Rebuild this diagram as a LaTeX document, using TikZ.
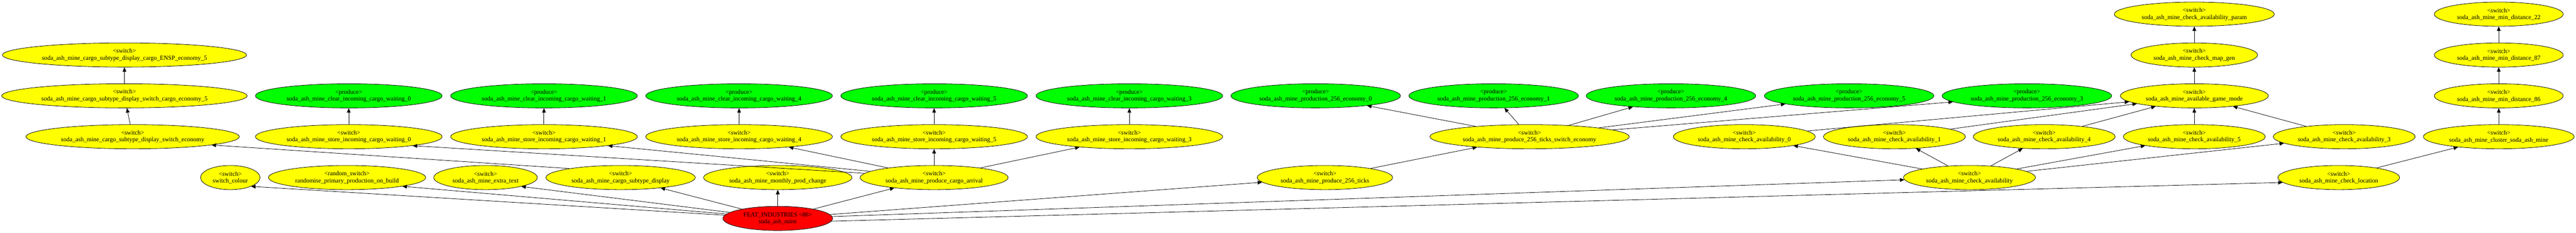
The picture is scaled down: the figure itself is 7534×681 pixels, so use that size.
\documentclass[tikz,border=0pt]{standalone}
\usepackage{fontspec}
\setmainfont{Liberation Serif}
\usepackage{xcolor}
\usetikzlibrary{arrows.meta, positioning, shapes.geometric}
\definecolor{switchyellow}{RGB}{255,255,0}
\definecolor{producegreen}{RGB}{0,255,0}
\definecolor{industryred}{RGB}{255,0,0}
\newcommand{\nodefont}{\fontsize{18.1}{20.5}\selectfont}

\begin{document}
\begin{tikzpicture}
    [x=1pt, y=1pt, >={Triangle[length=13pt, width=11pt]}, line width=1.2pt,
    edge/.style={draw=black, ->}, every node/.style={font=\nodefont}]
    % Define styles for switch, produce and industry nodes
    \tikzstyle{switch} = [draw, ellipse, fill=switchyellow, inner sep=0pt, minimum height=70.8pt, align=center]
    \tikzstyle{produce} = [switch, fill=producegreen]
    \tikzstyle{industry} = [switch, fill=industryred]

    \useasboundingbox (0,0) rectangle (7534,681);

    % Nodes placement: industry and the switches it calls
    \node [industry, minimum width=321pt] (root) at (2274.7,42.6) {FEAT\_INDUSTRIES <86>\\soda\_ash\_mine};
    \node [switch, minimum width=174pt] (colour) at (673.5,162) {<switch>\\switch\_colour};
    \node [switch, minimum width=460pt] (random) at (1015,162) {<random\_switch>\\randomise\_primary\_production\_on\_build};
    \node [switch, minimum width=303pt] (extra) at (1420,162) {<switch>\\soda\_ash\_mine\_extra\_text};
    \node [switch, minimum width=437pt] (subdisp) at (1815,162) {<switch>\\soda\_ash\_mine\_cargo\_subtype\_display};
    \node [switch, minimum width=434pt, above of=root, node distance=119.4pt] (monthly) {<switch>\\soda\_ash\_mine\_monthly\_prod\_change};
    \node [switch, minimum width=433pt] (arrival) at (2732,162) {<switch>\\soda\_ash\_mine\_produce\_cargo\_arrival};
    \node [switch, minimum width=396pt] (ticks) at (3875,162) {<switch>\\soda\_ash\_mine\_produce\_256\_ticks};
    \node [switch, minimum width=386pt] (check) at (5760,162) {<switch>\\soda\_ash\_mine\_check\_availability};
    \node [switch, minimum width=356pt] (location) at (6840,162) {<switch>\\soda\_ash\_mine\_check\_location};

    % Cargo subtype display chain
    \node [switch, minimum width=624pt] (sweco) at (388,281.4) {<switch>\\soda\_ash\_mine\_cargo\_subtype\_display\_switch\_economy};
    \node [switch, minimum width=718pt] (swcargo5) at (364,400.9) {<switch>\\soda\_ash\_mine\_cargo\_subtype\_display\_switch\_cargo\_economy\_5};
    \node [switch, minimum width=714pt, above of=swcargo5, node distance=119.4pt] (ensp) {<switch>\\soda\_ash\_mine\_cargo\_subtype\_display\_cargo\_ENSP\_economy\_5};

    % Incoming cargo waiting
    \node [switch, minimum width=546pt] (store0) at (1020,281.4) {<switch>\\soda\_ash\_mine\_store\_incoming\_cargo\_waiting\_0};
    \node [switch, minimum width=546pt, right of=store0, node distance=571pt] (store1) {<switch>\\soda\_ash\_mine\_store\_incoming\_cargo\_waiting\_1};
    \node [switch, minimum width=546pt, right of=store1, node distance=570.6pt] (store4) {<switch>\\soda\_ash\_mine\_store\_incoming\_cargo\_waiting\_4};
    \node [switch, minimum width=546pt, right of=store4, node distance=570.4pt] (store5) {<switch>\\soda\_ash\_mine\_store\_incoming\_cargo\_waiting\_5};
    \node [switch, minimum width=546pt, right of=store5, node distance=571pt] (store3) {<switch>\\soda\_ash\_mine\_store\_incoming\_cargo\_waiting\_3};
    \node [produce, minimum width=546pt, above of=store0, node distance=119.4pt] (clear0) {<produce>\\soda\_ash\_mine\_clear\_incoming\_cargo\_waiting\_0};
    \node [produce, minimum width=546pt, above of=store1, node distance=119.4pt] (clear1) {<produce>\\soda\_ash\_mine\_clear\_incoming\_cargo\_waiting\_1};
    \node [produce, minimum width=546pt, above of=store4, node distance=119.4pt] (clear4) {<produce>\\soda\_ash\_mine\_clear\_incoming\_cargo\_waiting\_4};
    \node [produce, minimum width=546pt, above of=store5, node distance=119.4pt] (clear5) {<produce>\\soda\_ash\_mine\_clear\_incoming\_cargo\_waiting\_5};
    \node [produce, minimum width=546pt, above of=store3, node distance=119.4pt] (clear3) {<produce>\\soda\_ash\_mine\_clear\_incoming\_cargo\_waiting\_3};

    % Production every 256 ticks
    \node [switch, minimum width=583pt] (ticksw) at (4473.5,281.4) {<switch>\\soda\_ash\_mine\_produce\_256\_ticks\_switch\_economy};
    \node [produce, minimum width=496pt] (eco0) at (3848,400.9) {<produce>\\soda\_ash\_mine\_production\_256\_economy\_0};
    \node [produce, minimum width=496pt, right of=eco0, node distance=520.5pt] (eco1) {<produce>\\soda\_ash\_mine\_production\_256\_economy\_1};
    \node [produce, minimum width=496pt, right of=eco1, node distance=518.5pt] (eco4) {<produce>\\soda\_ash\_mine\_production\_256\_economy\_4};
    \node [produce, minimum width=496pt, right of=eco4, node distance=521pt] (eco5) {<produce>\\soda\_ash\_mine\_production\_256\_economy\_5};
    \node [produce, minimum width=496pt, right of=eco5, node distance=520pt] (eco3) {<produce>\\soda\_ash\_mine\_production\_256\_economy\_3};

    % Availability checks
    \node [switch, minimum width=415pt] (ca0) at (5101.5,281.4) {<switch>\\soda\_ash\_mine\_check\_availability\_0};
    \node [switch, minimum width=415pt, right of=ca0, node distance=439pt] (ca1) {<switch>\\soda\_ash\_mine\_check\_availability\_1};
    \node [switch, minimum width=415pt, right of=ca1, node distance=438pt] (ca4) {<switch>\\soda\_ash\_mine\_check\_availability\_4};
    \node [switch, minimum width=415pt, right of=ca4, node distance=439.1pt] (ca5) {<switch>\\soda\_ash\_mine\_check\_availability\_5};
    \node [switch, minimum width=415pt, right of=ca5, node distance=438.4pt] (ca3) {<switch>\\soda\_ash\_mine\_check\_availability\_3};
    \node [switch, minimum width=433pt, above of=ca5, node distance=119.4pt] (agm) {<switch>\\soda\_ash\_mine\_available\_game\_mode};
    \node [switch, minimum width=370pt, above of=agm, node distance=119.4pt] (mapgen) {<switch>\\soda\_ash\_mine\_check\_map\_gen};
    \node [switch, minimum width=468pt, above of=mapgen, node distance=119.4pt] (avparam) {<switch>\\soda\_ash\_mine\_check\_availability\_param};

    % Location checks
    \node [switch, minimum width=441pt] (cluster) at (7308,281.4) {<switch>\\soda\_ash\_mine\_cluster\_soda\_ash\_mine};
    \node [switch, minimum width=377pt, above of=cluster, node distance=119.4pt] (md86) {<switch>\\soda\_ash\_mine\_min\_distance\_86};
    \node [switch, minimum width=377pt, above of=md86, node distance=119.4pt] (md87) {<switch>\\soda\_ash\_mine\_min\_distance\_87};
    \node [switch, minimum width=377pt, above of=md87, node distance=119.4pt] (md22) {<switch>\\soda\_ash\_mine\_min\_distance\_22};

    % Draw edges from the industry
    \draw[edge] (root) -- (colour.-23);
    \draw[edge] (root) -- (random.-9);
    \draw[edge] (root) -- (extra.-14);
    \draw[edge] (root) -- (subdisp);
    \draw[edge] (root) -- (monthly);
    \draw[edge] (root) -- (arrival);
    \draw[edge] (root) -- (ticks);
    \draw[edge] (root) -- (check);
    \draw[edge] (root.-3) -- (location.185);

    % Cargo subtype display
    \draw[edge] (subdisp.170) -- (sweco.-6);
    \draw[edge] (sweco) -- (swcargo5);
    \draw[edge] (swcargo5) -- (ensp);

    % Incoming cargo
    \draw[edge] (arrival) -- (store0.-8);
    \draw[edge] (arrival) -- (store1.-8);
    \draw[edge] (arrival) -- (store4);
    \draw[edge] (arrival) -- (store5);
    \draw[edge] (arrival) -- (store3);
    \draw[edge] (store0) -- (clear0);
    \draw[edge] (store1) -- (clear1);
    \draw[edge] (store4) -- (clear4);
    \draw[edge] (store5) -- (clear5);
    \draw[edge] (store3) -- (clear3);

    % Production
    \draw[edge] (ticks) -- (ticksw);
    \draw[edge] (ticksw) -- (eco0);
    \draw[edge] (ticksw) -- (eco1);
    \draw[edge] (ticksw) -- (eco4);
    \draw[edge] (ticksw) -- (eco5);
    \draw[edge] (ticksw) -- (eco3);

    % Availability
    \draw[edge] (check) -- (ca0);
    \draw[edge] (check) -- (ca1);
    \draw[edge] (check) -- (ca4);
    \draw[edge] (check) -- (ca5);
    \draw[edge] (check) -- (ca3);
    \draw[edge] (ca0) -- (agm);
    \draw[edge] (ca1) -- (agm);
    \draw[edge] (ca4) -- (agm);
    \draw[edge] (ca5) -- (agm);
    \draw[edge] (ca3) -- (agm);
    \draw[edge] (agm) -- (mapgen);
    \draw[edge] (mapgen) -- (avparam);

    % Location
    \draw[edge] (location) -- (cluster);
    \draw[edge] (cluster) -- (md86);
    \draw[edge] (md86) -- (md87);
    \draw[edge] (md87) -- (md22);
\end{tikzpicture}
\end{document}
